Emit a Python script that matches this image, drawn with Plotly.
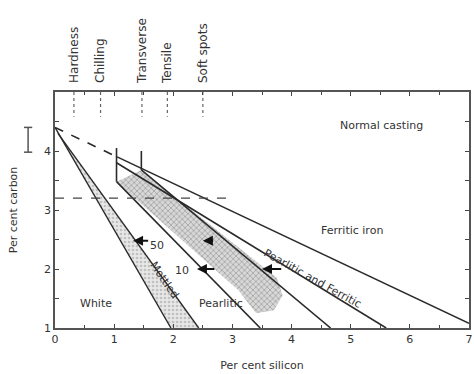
import plotly.graph_objects as go

# Property limits marked along the top edge (per cent silicon)
prop_names = ["Hardness", "Chilling", "Transverse", "Tensile", "Soft spots"]
prop_si = [0.32, 0.77, 1.47, 1.9, 2.5]
prop_c_low = 4.58

# Boundary lines (silicon, carbon)
ferritic_dash_si = [0.0, 1.05]
ferritic_dash_c = [4.4, 3.9]
ferritic_si = [1.05, 7.0]
ferritic_c = [3.9, 1.08]

pf_upper_si = [1.04, 5.6]
pf_upper_c = [3.8, 1.0]

pf_lower_si = [1.46, 4.66]
pf_lower_c = [3.68, 1.0]

pearl_si = [1.04, 3.47]
pearl_c = [3.48, 1.0]

# Mottled band (white/mottled and mottled/pearlitic boundaries)
mot_left_si = [0.0, 1.96]
mot_left_c = [4.4, 1.0]
mot_right_si = [0.05, 2.43]
mot_right_c = [4.3, 1.0]

# Hatched pearlitic band outline
hatch_si = [1.04, 1.46, 3.1, 3.75, 3.85, 3.7, 3.4, 3.1, 1.04]
hatch_c = [3.48, 3.68, 2.37, 1.85, 1.55, 1.3, 1.25, 1.64, 3.48]

# Short vertical markers
bar_si = [1.04, 1.46]
bar_c_top = [4.05, 4.0]
bar_c_bot = [3.48, 3.68]

# Horizontal dashed carbon level
level_c = 3.2
level_si = [0.0, 2.9]

ink = "#2a2a2a"
fig = go.Figure()

# mottled band fill
fig.add_trace(go.Scatter(
    x=mot_left_si + mot_right_si[::-1], y=mot_left_c + mot_right_c[::-1],
    fill="toself", mode="lines", line=dict(width=0),
    fillpattern=dict(shape=".", size=4, solidity=0.35, fgcolor="#999", bgcolor="rgba(215,215,215,0.6)"),
    hoverinfo="skip", showlegend=False))

# hatched pearlitic band
fig.add_trace(go.Scatter(
    x=hatch_si, y=hatch_c, fill="toself", mode="lines", line=dict(width=0),
    fillpattern=dict(shape="x", size=4, solidity=0.4, fgcolor="#777", bgcolor="rgba(200,200,200,0.7)"),
    hoverinfo="skip", showlegend=False))

def seg(xs, ys, dash="solid", width=1.6, color=ink):
    fig.add_trace(go.Scatter(x=xs, y=ys, mode="lines",
                             line=dict(color=color, width=width, dash=dash),
                             hoverinfo="skip", showlegend=False))

seg(ferritic_dash_si, ferritic_dash_c, dash="dash")
seg(ferritic_si, ferritic_c)
seg(pf_upper_si, pf_upper_c)
seg(pf_lower_si, pf_lower_c)
seg(pearl_si, pearl_c)
seg(mot_left_si, mot_left_c, width=1.4)
seg(mot_right_si, mot_right_c, width=1.4)
for s, t, b in zip(bar_si, bar_c_top, bar_c_bot):
    seg([s, s], [t, b], width=1.6)
seg(level_si, [level_c, level_c], dash="dash", width=1.2, color="#444")
for s in prop_si:
    seg([s, s], [5.0, prop_c_low], dash="dot", width=1.2, color="#666")

txt = dict(family="DejaVu Sans", size=11, color="#333")
notes = [
    ("Normal casting", 5.52, 4.44, 0),
    ("Ferritic iron", 5.03, 2.66, 0),
    ("Pearlitic and Ferritic", 4.35, 1.84, 29),
    ("Pearlitic", 2.8, 1.42, 0),
    ("White", 0.7, 1.42, 0),
    ("Mottled", 1.85, 1.8, 56),
    ("50", 1.73, 2.39, 0),
    ("10", 2.14, 1.98, 0),
]
for t, x, y, a in notes:
    fig.add_annotation(x=x, y=y, text=t, showarrow=False, textangle=a, font=txt)

# section-size arrows
arrows = [(1.32, 2.48, 1.6, 2.48), (2.5, 2.48, 2.7, 2.48),
          (2.4, 2.0, 2.72, 2.0), (3.5, 2.0, 3.85, 2.0)]
for x0, y0, x1, y1 in arrows:
    fig.add_annotation(x=x0, y=y0, ax=x1, ay=y1, xref="x", yref="y", axref="x", ayref="y",
                       showarrow=True, arrowhead=2, arrowsize=1, arrowwidth=2, arrowcolor="#111", text="")

# carbon range bracket left of the axis
fig.add_shape(type="line", xref="paper", yref="y", x0=-0.065, x1=-0.065, y0=4.4, y1=3.98,
              line=dict(color="#555", width=1.5))
for yy in (4.4, 3.98):
    fig.add_shape(type="line", xref="paper", yref="y", x0=-0.075, x1=-0.055, y0=yy, y1=yy,
                  line=dict(color="#555", width=1.5))

axis_font = dict(family="DejaVu Sans", size=11, color="#333")
title_font = dict(family="DejaVu Sans", size=11, color="#333")
fig.update_layout(
    width=474, height=374, margin=dict(l=55, r=1, t=92, b=46),
    paper_bgcolor="white", plot_bgcolor="white",
    xaxis=dict(range=[0, 7], tickvals=list(range(8)), ticks="inside", ticklen=4,
               minor=dict(dtick=0.5, ticks="inside", ticklen=3),
               showline=True, linecolor="#555", linewidth=1.5, mirror="allticks",
               showgrid=False, zeroline=False, tickfont=axis_font, ticklabeloverflow="allow",
               title=dict(text="Per cent silicon", font=title_font, standoff=16)),
    yaxis=dict(range=[1, 5], tickvals=[1, 2, 3, 4], ticks="inside", ticklen=4,
               minor=dict(dtick=0.5, ticks="inside", ticklen=3),
               showline=True, linecolor="#555", linewidth=1.5, mirror="allticks",
               showgrid=False, zeroline=False, tickfont=axis_font,
               title=dict(text="Per cent carbon", font=title_font, standoff=24)),
    xaxis2=dict(range=[0, 7], overlaying="x", side="top", tickvals=prop_si, ticktext=prop_names,
                tickangle=-90, ticks="", showline=False, showgrid=False, zeroline=False,
                ticklabelstandoff=8,
                tickfont=dict(family="DejaVu Sans", size=12, color="#333")),
)
# invisible trace to activate the top axis
fig.add_trace(go.Scatter(x=[0], y=[1], xaxis="x2", mode="markers", marker=dict(opacity=0),
                         hoverinfo="skip", showlegend=False))

fig.write_html("out.html")
